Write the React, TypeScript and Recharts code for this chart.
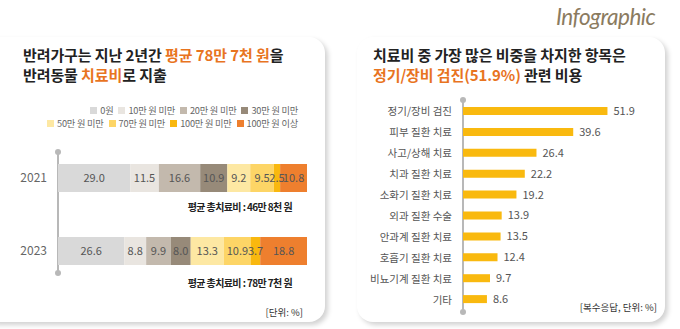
import { BarChart, Bar, XAxis, YAxis, LabelList } from "recharts";

const years = ["2021", "2023"];
const costBands = [
  "0원",
  "10만 원 미만",
  "20만 원 미만",
  "30만 원 미만",
  "50만 원 미만",
  "70만 원 미만",
  "100만 원 미만",
  "100만 원 이상",
];
const share2021 = [29.0, 11.5, 16.6, 10.9, 9.2, 9.5, 2.5, 10.8];
const share2023 = [26.6, 8.8, 9.9, 8.0, 13.3, 10.9, 3.7, 18.8];
const avgCost = ["46만 8천 원", "78만 7천 원"];

const items = [
  "정기/장비 검진",
  "피부 질환 치료",
  "사고/상해 치료",
  "치과 질환 치료",
  "소화기 질환 치료",
  "외과 질환 수술",
  "안과계 질환 치료",
  "호흡기 질환 치료",
  "비뇨기계 질환 치료",
  "기타",
];
const itemShares = [51.9, 39.6, 26.4, 22.2, 19.2, 13.9, 13.5, 12.4, 9.7, 8.6];

const bandColors = ["#d9d9d9", "#e9e5e0", "#c3b9ad", "#978a79", "#fde8a3", "#fdd566", "#f9b80f", "#ee7f2e"];
const ORANGE = "#e8741f";
const FONT = "'Noto Sans CJK KR', 'Noto Sans', sans-serif";

const yearRows = years.map((year, i) => {
  const vals = i === 0 ? share2021 : share2023;
  const row: Record<string, string | number> = { year };
  vals.forEach((v, j) => (row[`b${j}`] = v));
  return row;
});

const itemRows = items.map((name, i) => ({ name, value: itemShares[i] }));

const fmt = (v: unknown) => Number(v).toFixed(1);

// plain tick so recharts doesn't wrap long names
const ItemTick = ({ x, y, payload }: any) => (
  <text x={x} y={y} dy={4} textAnchor="end" fill="#555" fontSize={10.5} fontFamily={FONT}>
    {payload.value}
  </text>
);

function AxisRule({ x, y1, y2 }: { x: number; y1: number; y2: number }) {
  return (
    <>
      <div style={{ position: "absolute", left: x - 0.75, top: y1, width: 1.5, height: y2 - y1, background: "#b8b8b8" }} />
      {[y1, y2].map((y) => (
        <div
          key={y}
          style={{ position: "absolute", left: x - 3, top: y - 3, width: 6, height: 6, borderRadius: 3, background: "#b8b8b8" }}
        />
      ))}
    </>
  );
}

const card = {
  position: "absolute" as const,
  top: 37,
  height: 285,
  background: "#fff",
  borderRadius: 16,
  boxShadow: "3px 3px 5px rgba(0,0,0,0.18)",
};

const titleStyle = {
  position: "absolute" as const,
  top: 45,
  fontSize: 15,
  fontWeight: 700,
  lineHeight: "20px",
  letterSpacing: -0.1,
};

export default function App() {
  return (
    <div
      style={{
        position: "absolute",
        left: 0,
        top: 0,
        width: 680,
        height: 329,
        overflow: "hidden",
        background: "#fff",
        fontFamily: FONT,
        color: "#222",
      }}
    >
      <div
        style={{
          position: "absolute",
          left: 556,
          top: 3,
          fontFamily: "Lato, sans-serif",
          fontStyle: "italic",
          fontSize: 22.5,
          color: "#8b7b5f",
          letterSpacing: -0.5,
        }}
      >
        Infographic
      </div>

      <div style={{ ...card, left: -20, width: 345 }} />
      <div style={{ ...card, left: 357, width: 308 }} />

      {/* left panel */}
      <div style={{ ...titleStyle, left: 23 }}>
        <div>
          반려가구는 지난 2년간 <span style={{ color: ORANGE }}>평균 78만 7천 원</span>을
        </div>
        <div>
          반려동물 <span style={{ color: ORANGE }}>치료비</span>로 지출
        </div>
      </div>

      <div style={{ position: "absolute", right: 382, top: 104, fontSize: 9.2, lineHeight: "13px", color: "#666", textAlign: "right", letterSpacing: -0.2 }}>
        {[costBands.slice(0, 4), costBands.slice(4)].map((row, r) => (
          <div key={r} style={{ display: "flex", justifyContent: "flex-end", gap: 5, whiteSpace: "nowrap" }}>
            {row.map((name) => {
              const idx = costBands.indexOf(name);
              return (
                <span key={name} style={{ display: "flex", alignItems: "center", gap: 3 }}>
                  <span style={{ width: 7, height: 7, background: bandColors[idx], display: "inline-block" }} />
                  {name}
                </span>
              );
            })}
          </div>
        ))}
      </div>

      <AxisRule x={58} y1={152} y2={273} />

      <div style={{ position: "absolute", left: 0, top: 141 }}>
        <BarChart width={307} height={146} layout="vertical" data={yearRows} margin={{ top: 0, right: 0, bottom: 0, left: 0 }}>
          <XAxis type="number" domain={[0, 100]} hide />
          <YAxis
            type="category"
            dataKey="year"
            width={58}
            axisLine={false}
            tickLine={false}
            tickMargin={5}
            tick={{ fill: "#666", fontSize: 12, fontFamily: FONT }}
          />
          {costBands.map((name, j) => (
            <Bar key={name} dataKey={`b${j}`} name={name} stackId="a" fill={bandColors[j]} barSize={28} isAnimationActive={false}>
              <LabelList dataKey={`b${j}`} position="center" formatter={fmt} fill="#555" fontSize={11} fontFamily={FONT} />
            </Bar>
          ))}
        </BarChart>
      </div>

      {avgCost.map((c, i) => (
        <div
          key={c}
          style={{ position: "absolute", right: 388, top: i === 0 ? 200 : 276, fontSize: 10, fontWeight: 700, lineHeight: "14px", letterSpacing: -0.6 }}
        >
          평균 총치료비 : {c}
        </div>
      ))}
      <div style={{ position: "absolute", right: 377, top: 305, fontSize: 9.5, lineHeight: "14px", color: "#333" }}>[단위: %]</div>

      {/* right panel */}
      <div style={{ ...titleStyle, left: 373 }}>
        <div>치료비 중 가장 많은 비중을 차지한 항목은</div>
        <div>
          <span style={{ color: ORANGE }}>정기/장비 검진(51.9%)</span> 관련 비용
        </div>
      </div>

      <AxisRule x={463} y1={100} y2={312} />

      <div style={{ position: "absolute", left: 350, top: 101 }}>
        <BarChart width={310} height={209} layout="vertical" data={itemRows} margin={{ top: 0, right: 30, bottom: 0, left: 0 }}>
          <XAxis type="number" domain={[0, 60]} hide />
          <YAxis
            type="category"
            dataKey="name"
            width={113}
            axisLine={false}
            tickLine={false}
            tickMargin={5}
            interval={0}
            tick={<ItemTick />}
          />
          <Bar dataKey="value" fill="#f9b90f" barSize={8} isAnimationActive={false}>
            <LabelList dataKey="value" position="right" offset={6} formatter={fmt} fill="#555" fontSize={11} fontFamily={FONT} />
          </Bar>
        </BarChart>
      </div>

      <div style={{ position: "absolute", right: 23, top: 300, fontSize: 9.5, lineHeight: "14px", color: "#333" }}>[복수응답, 단위: %]</div>
    </div>
  );
}
